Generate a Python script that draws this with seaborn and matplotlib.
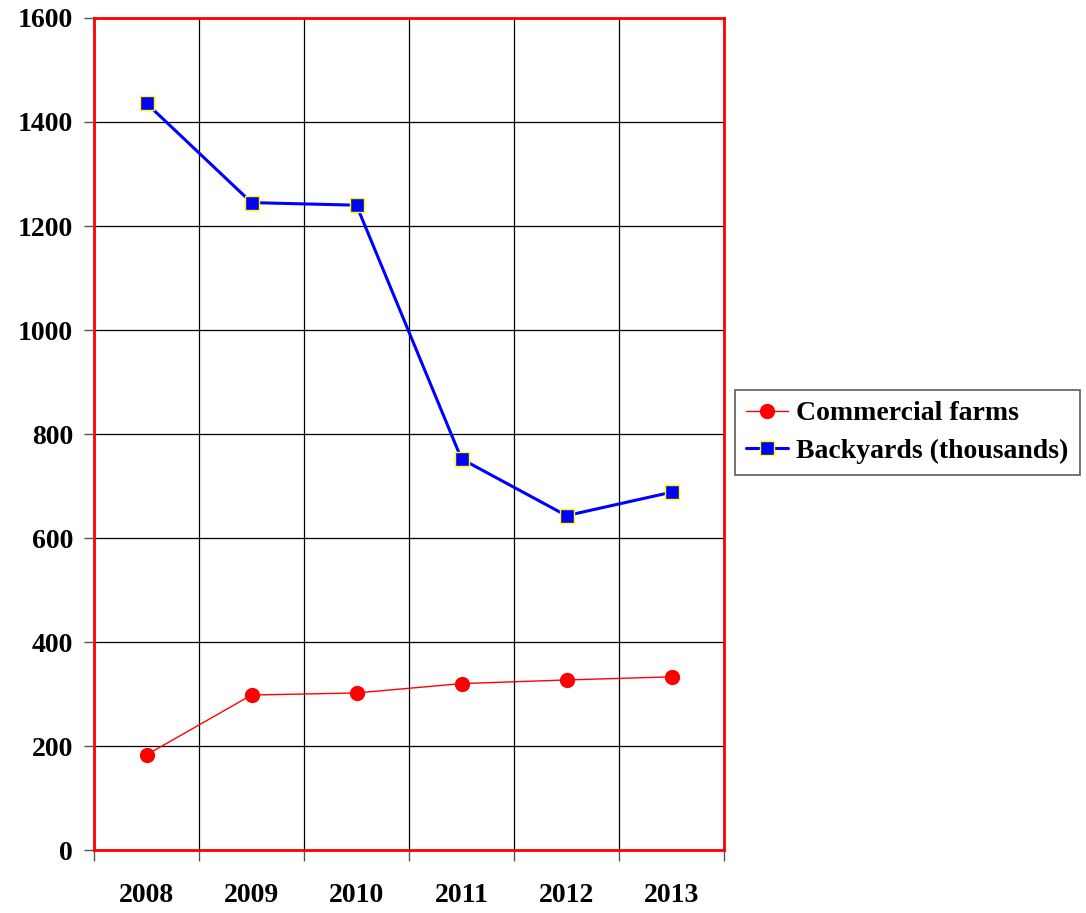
import numpy as np
import pandas as pd
import seaborn as sns
import matplotlib.pyplot as plt

years = ["2008", "2009", "2010", "2011", "2012", "2013"]
commercial_farms = [183, 298, 302, 320, 327, 333]
backyards = [1436, 1245, 1240, 752, 643, 688]

sns.set_theme(style="white")
plt.rcParams['font.family'] = ['Liberation Serif', 'DejaVu Serif']
plt.rcParams['font.weight'] = 'bold'
plt.rcParams['text.color'] = 'black'
plt.rcParams['xtick.color'] = 'black'
plt.rcParams['ytick.color'] = 'black'

df = pd.DataFrame({
    'pos': np.arange(len(years)),
    'year': years,
    'Commercial farms': commercial_farms,
    'Backyards (thousands)': backyards,
})

fig = plt.figure(figsize=(10.86, 9.13), dpi=100)
ax = fig.add_axes([94 / 1086, 1 - 850 / 913, (724 - 94) / 1086, (850 - 18) / 913])

sns.lineplot(data=df, x='pos', y='Commercial farms', ax=ax, color='#ff0000', lw=1,
             marker='o', markersize=11, markeredgewidth=0, label='Commercial farms')
sns.lineplot(data=df, x='pos', y='Backyards (thousands)', ax=ax, color='#0000ff', lw=2.2,
             marker='s', markersize=10, markeredgecolor='#ffff00', markeredgewidth=1,
             label='Backyards (thousands)')

ax.set_xlim(-0.5, len(years) - 0.5)
ax.set_ylim(0, 1600)
ax.set_yticks(range(0, 1601, 200))

# grille sur les limites des catégories, étiquettes au centre
ax.set_xticks(np.arange(-0.5, len(years), 1.0))
ax.set_xticklabels([])
ax.set_xticks(np.arange(len(years)), minor=True)
ax.set_xticklabels(years, minor=True)
ax.tick_params(axis='x', which='major', length=8, width=1, color='#555555', direction='out', bottom=True)
ax.tick_params(axis='x', which='minor', length=0, pad=24, labelsize=20)
ax.tick_params(axis='y', length=7, width=1, color='#555555', left=True, labelsize=20, pad=8)
ax.grid(True, which='major', color='black', lw=0.9)
ax.set_axisbelow(True)

for s in ax.spines.values():
    s.set_color('#ff0000')
    s.set_linewidth(2)

ax.set_xlabel('')
ax.set_ylabel('')

leg = ax.legend(loc='center left', bbox_to_anchor=(735 / 1086, 1 - 432.5 / 913),
                bbox_transform=fig.transFigure, frameon=True, fancybox=False,
                edgecolor='#333333', fontsize=20, handlelength=1.5, handletextpad=0.3,
                borderpad=0.4, labelspacing=0.45, borderaxespad=0)
leg.get_frame().set_linewidth(1.2)

fig.savefig('out.png', dpi=100)
